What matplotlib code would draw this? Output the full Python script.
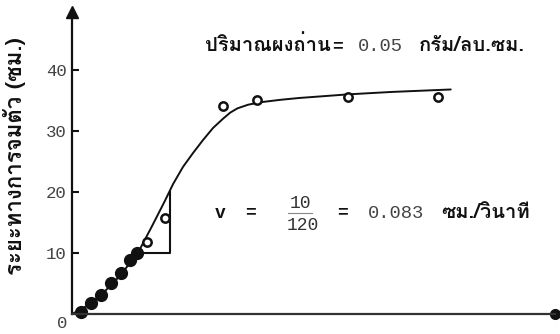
import matplotlib
matplotlib.use("Agg")
import matplotlib.pyplot as plt
from matplotlib.offsetbox import TextArea, HPacker, AnchoredOffsetbox

# Settling distance of the charcoal suspension over time
time_s_filled = [34, 71, 109, 146, 184, 218, 243]
dist_cm_filled = [0.4, 1.8, 3.1, 5.0, 6.8, 8.9, 10.0]

time_s_open = [281, 349, 566, 694, 1035, 1372]
dist_cm_open = [11.8, 15.7, 34.1, 35.1, 35.6, 35.6]

# hand-fitted settling curve
curve_t = [0, 40, 80, 120, 160, 200, 247, 300, 349, 379, 416, 454, 491,
           529, 566, 593, 620, 660, 705, 780, 850, 1035, 1200, 1420]
curve_d = [0, 0.9, 2.1, 3.6, 5.3, 7.4, 10.0, 14.4, 18.6, 21.3, 24.1, 26.4,
           28.5, 30.5, 32.0, 33.0, 33.7, 34.3, 34.7, 35.1, 35.4, 36.0,
           36.4, 36.8]

# slope triangle: run 120 s, rise 10 cm
tri_t0, tri_run = 247.5, 120
tri_d0, tri_rise = 10, 10
velocity = 0.083
dose = "0.05"

yticks = [10, 20, 30, 40]

THAI = ["Loma", "DejaVu Sans"]
MONO = "Liberation Mono"
INK = "#111111"
GREY = "#444444"

W, H = 560, 334
fig = plt.figure(figsize=(W / 100, H / 100), dpi=100)


def fx(px):
    return px / W


def fy(py):
    return 1 - py / H


ax = fig.add_axes([fx(72), fy(314), (555 - 72) / W, (314 - 12) / H])
ax.set_xlim(0, 1811)
ax.set_ylim(0, 49.5)
for s in ("top", "right"):
    ax.spines[s].set_visible(False)
ax.spines["left"].set_linewidth(1.6)
ax.spines["bottom"].set_linewidth(1.6)
ax.spines["left"].set_color(INK)
ax.spines["bottom"].set_color("#333333")

ax.set_xticks([])
ax.set_yticks(yticks)
ax.set_yticklabels([str(v) for v in yticks], family=MONO, fontsize=12.5, color=GREY)
ax.tick_params(axis="y", direction="in", length=5, width=1.5, color=INK, pad=4)

# arrow head on the y axis, dot at the end of the x axis
ax.plot([0], [49.5], marker="^", ms=8, color=INK, clip_on=False)
ax.plot([1811], [0], marker="o", ms=7, color=INK, clip_on=False)

ax.plot(curve_t, curve_d, color=INK, lw=1.4, solid_capstyle="round")
ax.plot(time_s_filled, dist_cm_filled, "o", ms=8.5, color=INK, clip_on=False)
ax.plot(time_s_open, dist_cm_open, "o", ms=6, mfc="white", mec=INK, mew=1.8)

ax.plot([tri_t0, tri_t0 + tri_run, tri_t0 + tri_run],
        [tri_d0, tri_d0, tri_d0 + tri_rise], color=INK, lw=1.5)

fig.text(fx(62), fy(323), "0", family=MONO, fontsize=12.5, color=GREY,
         ha="center", va="center")

fig.text(fx(15), fy(156), "ระยะทางการจมตัว (ซม.)", family=THAI,
         fontsize=16, fontweight="bold", rotation=90, ha="center", va="center",
         color=INK)

thai_p = dict(family=THAI, fontsize=14.5, fontweight="bold", color=INK)
num_p = dict(family=MONO, fontsize=13.5, color=GREY)
eq_p = dict(family=MONO, fontsize=13, fontweight="bold", color=INK)


def pack(parts, sep):
    return HPacker(children=[TextArea(t, textprops=p) if isinstance(t, str) else t
                             for t, p in parts],
                   align="baseline", pad=0, sep=sep)


def place(box, x_px, y_px):
    fig.add_artist(AnchoredOffsetbox(loc="center left", child=box, pad=0,
                                     borderpad=0, frameon=False,
                                     bbox_to_anchor=(fx(x_px), fy(y_px)),
                                     bbox_transform=fig.transFigure))


# material quantity
lead = pack([("ปริมาณผงถ่าน", thai_p), ("=", eq_p)], 1)
place(pack([(lead, None), (dose, num_p), ("กรัม/ลบ.ซม.", thai_p)], 11), 205, 45)

# settling velocity from the triangle
yv = fy(213)
fig.text(fx(220), yv, "v", family=MONO, fontsize=13, fontweight="bold",
         ha="center", va="center", color=INK)
fig.text(fx(250), yv, "=", family=MONO, fontsize=13, fontweight="bold",
         ha="center", va="center", color=INK)
fig.text(fx(300), fy(203), f"{tri_rise}", family=MONO, fontsize=13,
         ha="center", va="center", color="#333333")
fig.add_artist(plt.Line2D([fx(288), fx(312)], [yv, yv], color="#888888", lw=0.8))
fig.text(fx(303), fy(225), f"{tri_run}", family=MONO, fontsize=13,
         ha="center", va="center", color="#333333")
fig.text(fx(343), yv, "=", family=MONO, fontsize=13, fontweight="bold",
         ha="center", va="center", color=INK)
place(pack([(f"{velocity:.3f}", num_p), ("ซม./วินาที", thai_p)], 12), 368, 213)

fig.savefig("out.png", dpi=100)
